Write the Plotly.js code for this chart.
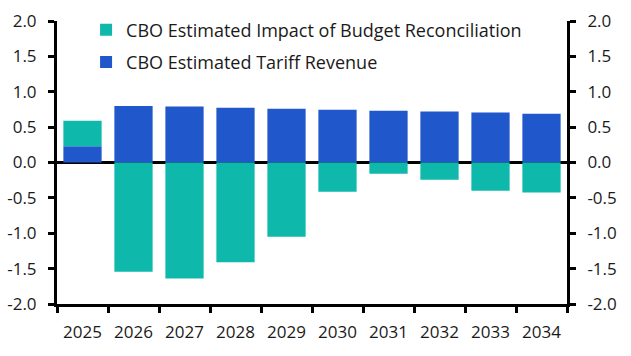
<!DOCTYPE html>
<html><head><meta charset="utf-8">
<script src="https://cdn.plot.ly/plotly-3.0.1.min.js"></script>
<style>html,body{margin:0;padding:0;background:#fff}#chart{width:631px;height:356px}</style>
</head><body><div id="chart"></div>
<script>
const years = ['2025','2026','2027','2028','2029','2030','2031','2032','2033','2034'];
const tariffRevenue = [0.23, 0.80, 0.79, 0.775, 0.76, 0.745, 0.73, 0.72, 0.705, 0.69];
const budgetImpact = [0.36, -1.545, -1.64, -1.41, -1.05, -0.415, -0.16, -0.245, -0.40, -0.425];
const yTicks = [-2, -1.5, -1, -0.5, 0, 0.5, 1, 1.5, 2];
const yTickText = ['-2.0','-1.5','-1.0','-0.5','0.0','0.5','1.0','1.5','2.0'];

const FONT = '"Open Sans", "Noto Sans", sans-serif';
const traces = [
  {type:'bar', x: years, y: tariffRevenue, name:'CBO Estimated Tariff Revenue',
   marker:{color:'#2058CC'}, legend:'legend2'},
  {type:'bar', x: years, y: budgetImpact, name:'CBO Estimated Impact of Budget Reconciliation',
   marker:{color:'#0EB9AB'}, legend:'legend'},
  {type:'scatter', x: years, y: tariffRevenue, yaxis:'y2', mode:'none', showlegend:false, hoverinfo:'skip'}
];
const yBase = {
  range:[-2,2], tickvals:yTicks, ticktext:yTickText, ticks:'outside', ticklen:6, tickwidth:3,
  tickcolor:'#000', showline:true, linewidth:3, linecolor:'#000', showgrid:false, automargin:false,
  tickfont:{family:FONT, size:17, color:'#1a1a1a'}, fixedrange:true
};
const layout = {
  width:631, height:356,
  margin:{l:57, r:64, t:15, b:52},
  paper_bgcolor:'#fff', plot_bgcolor:'#fff',
  barmode:'relative', bargap:0.25,
  font:{family:FONT, size:17, color:'#1a1a1a'},
  xaxis:{type:'category', tickson:'boundaries', ticks:'outside', ticklen:6, tickwidth:3, tickcolor:'#000',
         showline:true, linewidth:3, linecolor:'#000', showgrid:false, automargin:false,
         tickfont:{family:FONT, size:17, color:'#1a1a1a'}, ticklabelstandoff:11},
  yaxis: Object.assign({}, yBase, {side:'left', zeroline:true, zerolinewidth:3, zerolinecolor:'#000', layer:'above traces', ticklabelstandoff:8}),
  yaxis2: Object.assign({}, yBase, {side:'right', overlaying:'y', zeroline:false, ticklabelstandoff:8}),
  legend:{x:0.057, y:0.968, xanchor:'left', yanchor:'middle', bgcolor:'rgba(0,0,0,0)',
          font:{family:FONT, size:18, color:'#1a1a1a'}},
  legend2:{x:0.057, y:0.854, xanchor:'left', yanchor:'middle', bgcolor:'rgba(0,0,0,0)',
          font:{family:FONT, size:18, color:'#1a1a1a'}},
  showlegend:true
};
Plotly.newPlot('chart', traces, layout, {displayModeBar:false, staticPlot:true});
</script></body></html>
